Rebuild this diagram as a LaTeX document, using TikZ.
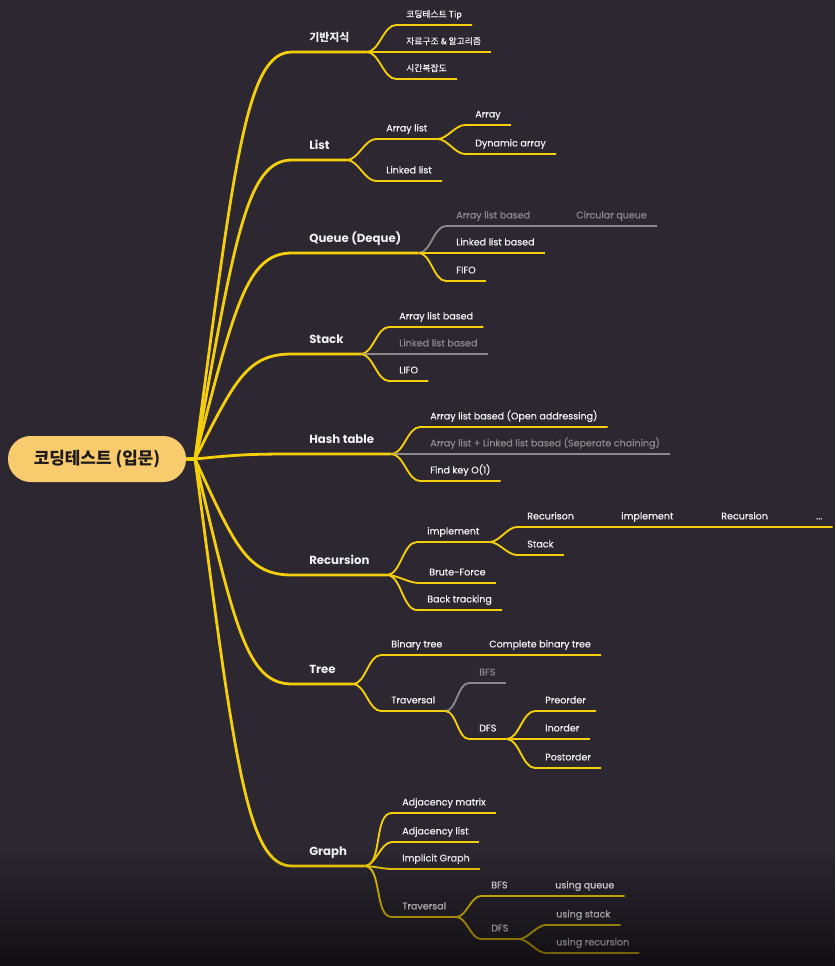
\documentclass[tikz,border=0pt]{standalone}
\usepackage{fontspec}
\setmainfont{Poppins}
\newfontfamily\itemfont{Poppins}[FakeBold=0.6]
\newfontfamily\kr{Noto Sans CJK KR}
\newfontfamily\kritemfont{Noto Sans CJK KR}[FakeBold=0.5]
\usetikzlibrary{fadings}

\definecolor{bgc}{HTML}{2C2731}
\definecolor{ylw}{HTML}{F5CF0C}
\definecolor{pill}{HTML}{F8CC6C}
\definecolor{rootc}{HTML}{1E1A1E}
\definecolor{txt}{HTML}{F2F2F2}
\definecolor{dimc}{HTML}{8A8A8A}

\tikzset{
    topic/.style={anchor=south west, inner xsep=12.75pt, inner ysep=0pt, text depth=7.9pt, text=txt, font=\fontsize{8.8}{10}\selectfont\bfseries},
    item/.style={anchor=south west, inner xsep=7.5pt, inner ysep=0pt, text depth=5.5pt, text=txt, font=\itemfont\fontsize{7.15}{9}\selectfont},
    krtopic/.style={topic, font=\kr\fontsize{8.2}{10}\selectfont\bfseries},
    kritem/.style={item, font=\kritemfont\fontsize{6.6}{8}\selectfont},
    faint/.style={text=dimc},
    trunk/.style={draw=ylw, line width=2.1pt, line join=round},
    link/.style={draw=ylw, line width=1.4pt, line join=round, out=0, in=180, looseness=0.8},
    faintlink/.style={link, draw=dimc},
}

\begin{document}
\begin{tikzpicture}[x=0.75pt,y=-0.75pt]
    \fill[bgc] (0,0) rectangle (835,966);
    \useasboundingbox (0,0) rectangle (835,966);

    \node[fill=pill, rounded corners=17pt, minimum width=133.5pt, minimum height=34.5pt, text=rootc, font=\kr\fontsize{12.7}{14}\selectfont\bfseries] (root) at (97,459) {코딩테스트 (입문)};
    \coordinate (hub) at (195,459);

    % main topics
    \node[krtopic] (base) at (292,52) {기반지식};
    \node[topic] (list) at (292,160) {List};
    \node[topic] (queue) at (292,253) {Queue (Deque)};
    \node[topic] (stack) at (292,354) {Stack};
    \node[topic] (hash) at (292,454) {Hash table};
    \node[topic] (recur) at (292,575) {Recursion};
    \node[topic] (tree) at (292,684) {Tree};
    \node[topic] (graph) at (292,866) {Graph};

    \draw[trunk] (root.east) -- (hub) .. controls +(40,-305) and +(-45,0) .. (base.south west) -- (base.south east);
    \draw[trunk] (root.east) -- (hub) .. controls +(40,-224) and +(-45,0) .. (list.south west) -- (list.south east);
    \draw[trunk] (root.east) -- (hub) .. controls +(40,-155) and +(-45,0) .. (queue.south west) -- (queue.south east);
    \draw[trunk] (root.east) -- (hub) .. controls +(40,-79) and +(-45,0) .. (stack.south west) -- (stack.south east);
    \draw[trunk] (root.east) -- (hub) .. controls +(40,-4) and +(-45,0) .. (hash.south west) -- (hash.south east);
    \draw[trunk] (root.east) -- (hub) .. controls +(40,87) and +(-45,0) .. (recur.south west) -- (recur.south east);
    \draw[trunk] (root.east) -- (hub) .. controls +(40,169) and +(-45,0) .. (tree.south west) -- (tree.south east);
    \draw[trunk] (root.east) -- (hub) .. controls +(40,305) and +(-45,0) .. (graph.south west) -- (graph.south east);

    % 기반지식
    \node[kritem] (tip) at (396,25) {코딩테스트 Tip};
    \node[kritem] (algo) at (396,52) {자료구조 \& 알고리즘};
    \node[kritem] (time) at (396,79) {시간복잡도};
    \draw[link] (base.south east) to (tip.south west) -- (tip.south east);
    \draw[link] (base.south east) to (algo.south west) -- (algo.south east);
    \draw[link] (base.south east) to (time.south west) -- (time.south east);

    % List
    \node[item] (arrlist) at (376,139) {Array list};
    \node[item] (linked) at (376,181) {Linked list};
    \node[item] (array) at (465,125) {Array};
    \node[item] (dynarr) at (465,154) {Dynamic array};
    \draw[link] (list.south east) to (arrlist.south west) -- (arrlist.south east);
    \draw[link] (list.south east) to (linked.south west) -- (linked.south east);
    \draw[link] (arrlist.south east) to (array.south west) -- (array.south east);
    \draw[link] (arrlist.south east) to (dynarr.south west) -- (dynarr.south east);

    % Queue
    \node[item, faint] (qarr) at (446,226) {Array list based};
    \node[item, faint] (circ) at (566,226) {Circular queue};
    \node[item] (qlinked) at (446,253) {Linked list based};
    \node[item] (fifo) at (446,281) {FIFO};
    \draw[faintlink] (queue.south east) to (qarr.south west) -- (qarr.south east) -- (circ.south west) -- (circ.south east);
    \draw[link] (queue.south east) to (qlinked.south west) -- (qlinked.south east);
    \draw[link] (queue.south east) to (fifo.south west) -- (fifo.south east);

    % Stack
    \node[item] (sarr) at (389,327) {Array list based};
    \node[item, faint] (slinked) at (389,354) {Linked list based};
    \node[item] (lifo) at (389,381) {LIFO};
    \draw[link] (stack.south east) to (sarr.south west) -- (sarr.south east);
    \draw[faintlink] (stack.south east) to (slinked.south west) -- (slinked.south east);
    \draw[link] (stack.south east) to (lifo.south west) -- (lifo.south east);

    % Hash table
    \node[item] (open) at (420,427) {Array list based (Open addressing)};
    \node[item, faint] (chain) at (420,454) {Array list + Linked list based (Seperate chaining)};
    \node[item] (findkey) at (420,481) {Find key O(1)};
    \draw[link] (hash.south east) to (open.south west) -- (open.south east);
    \draw[faintlink] (hash.south east) to (chain.south west) -- (chain.south east);
    \draw[link] (hash.south east) to (findkey.south west) -- (findkey.south east);

    % Recursion
    \node[item] (impl) at (417,542) {implement};
    \node[item] (brute) at (419,583) {Brute-Force};
    \node[item] (back) at (417,610) {Back tracking};
    \node[item] (rec1) at (517,527) {Recurison};
    \node[item] (impl2) at (611,527) {implement};
    \node[item] (rec2) at (711,527) {Recursion};
    \node[item] (dots) at (806,527) {...};
    \node[item] (stk) at (517,555) {Stack};
    \draw[link] (recur.south east) to (impl.south west) -- (impl.south east);
    \draw[link] (recur.south east) to (brute.south west) -- (brute.south east);
    \draw[link] (recur.south east) to (back.south west) -- (back.south east);
    \draw[link] (impl.south east) to (rec1.south west) -- (rec1.south east) -- (impl2.south west) -- (impl2.south east) -- (rec2.south west) -- (rec2.south east) -- (dots.south west) -- (dots.south east);
    \draw[link] (impl.south east) to (stk.south west) -- (stk.south east);

    % Tree
    \node[item] (bin) at (381,655) {Binary tree};
    \node[item] (complete) at (479,655) {Complete binary tree};
    \node[item] (trav) at (381,711) {Traversal};
    \node[item, faint] (tbfs) at (469,683) {BFS};
    \node[item] (tdfs) at (469,739) {DFS};
    \node[item] (pre) at (535,711) {Preorder};
    \node[item] (inord) at (535,739) {Inorder};
    \node[item] (post) at (535,768) {Postorder};
    \draw[link] (tree.south east) to (bin.south west) -- (bin.south east) -- (complete.south west) -- (complete.south east);
    \draw[link] (tree.south east) to (trav.south west) -- (trav.south east);
    \draw[faintlink] (trav.south east) to (tbfs.south west) -- (tbfs.south east);
    \draw[link] (trav.south east) to (tdfs.south west) -- (tdfs.south east);
    \draw[link] (tdfs.south east) to (pre.south west) -- (pre.south east);
    \draw[link] (tdfs.south east) to (inord.south west) -- (inord.south east);
    \draw[link] (tdfs.south east) to (post.south west) -- (post.south east);

    % Graph
    \node[item] (mat) at (392,813) {Adjacency matrix};
    \node[item] (adjl) at (392,842) {Adjacency list};
    \node[item] (implicit) at (392,869) {Implicit Graph};
    \node[item] (gtrav) at (392,917) {Traversal};
    \node[item] (gbfs) at (481,896) {BFS};
    \node[item] (usequeue) at (545,896) {using queue};
    \node[item] (gdfs) at (481,939) {DFS};
    \node[item] (usestack) at (546,925) {using stack};
    \node[item] (userec) at (546,953) {using recursion};
    \draw[link] (graph.south east) to (mat.south west) -- (mat.south east);
    \draw[link] (graph.south east) to (adjl.south west) -- (adjl.south east);
    \draw[link] (graph.south east) to (implicit.south west) -- (implicit.south east);
    \draw[link] (graph.south east) to (gtrav.south west) -- (gtrav.south east);
    \draw[link] (gtrav.south east) to (gbfs.south west) -- (gbfs.south east) -- (usequeue.south west) -- (usequeue.south east);
    \draw[link] (gtrav.south east) to (gdfs.south west) -- (gdfs.south east);
    \draw[link] (gdfs.south east) to (usestack.south west) -- (usestack.south east);
    \draw[link] (gdfs.south east) to (userec.south west) -- (userec.south east);

    \fill[black, fill opacity=0.6, path fading=north] (0,850) rectangle (835,966);
\end{tikzpicture}
\end{document}
